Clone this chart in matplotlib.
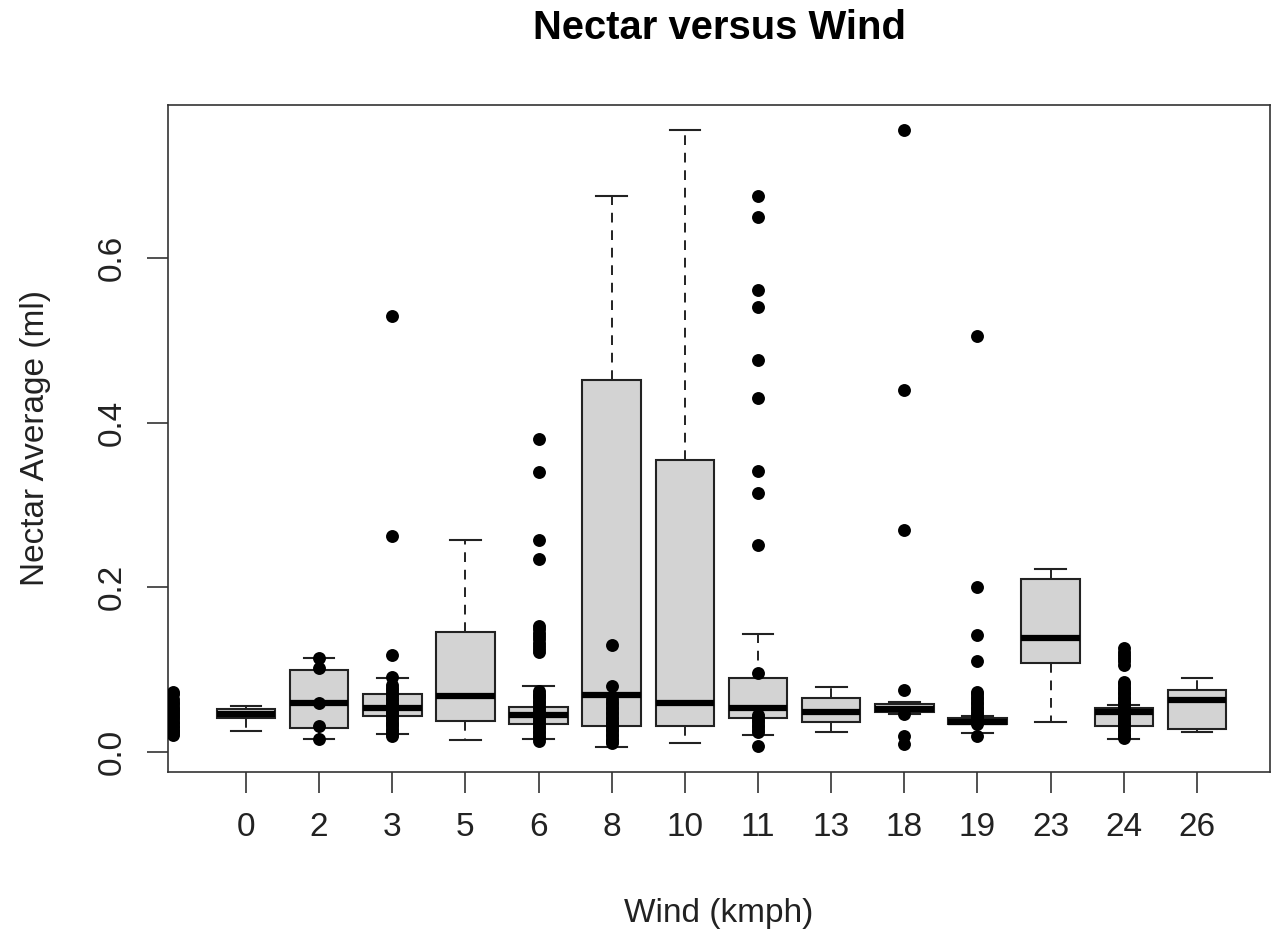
import matplotlib
matplotlib.use("Agg")
import matplotlib.pyplot as plt

plt.rcParams['font.family'] = ['Liberation Sans', 'DejaVu Sans']

# wind categories (first group has no label and no box, only points)
wind_labels = ["0", "2", "3", "5", "6", "8", "10", "11", "13", "18", "19", "23", "24", "26"]

# box statistics
q1 = [0.041, 0.029, 0.044, 0.038, 0.034, 0.031, 0.032, 0.041, 0.036, 0.048, 0.034, 0.108, 0.032, 0.028]
med = [0.046, 0.059, 0.054, 0.068, 0.045, 0.069, 0.060, 0.053, 0.049, 0.052, 0.037, 0.138, 0.049, 0.063]
q3 = [0.052, 0.100, 0.071, 0.146, 0.055, 0.452, 0.355, 0.090, 0.065, 0.058, 0.041, 0.210, 0.054, 0.075]
whis_lo = [0.0255, 0.0155, 0.022, 0.014, 0.0156, 0.0066, 0.0105, 0.0206, 0.024, 0.046, 0.0235, 0.0368, 0.0162, 0.0247]
whis_hi = [0.056, 0.114, 0.0895, 0.258, 0.080, 0.675, 0.755, 0.143, 0.079, 0.061, 0.044, 0.222, 0.057, 0.090]

# overlaid points (stripchart), keyed by group position
points_blank = [0.073, 0.070, 0.064, 0.061, 0.058, 0.055, 0.052, 0.050, 0.047, 0.045, 0.042,
                0.040, 0.037, 0.035, 0.032, 0.030, 0.027, 0.025, 0.023, 0.021]
points_2 = [0.114, 0.102, 0.059, 0.031, 0.016]
points_3 = [0.530, 0.262, 0.118, 0.091, 0.081, 0.078, 0.075, 0.072, 0.069, 0.066, 0.063, 0.060,
            0.057, 0.054, 0.052, 0.049, 0.046, 0.043, 0.040, 0.037, 0.034, 0.031, 0.028,
            0.025, 0.022, 0.019]
points_6 = [0.380, 0.340, 0.258, 0.235, 0.153, 0.149, 0.145, 0.141, 0.137, 0.133, 0.129, 0.125,
            0.121, 0.074, 0.071, 0.068, 0.065, 0.062, 0.059, 0.056, 0.053, 0.050, 0.047,
            0.044, 0.041, 0.038, 0.035, 0.032, 0.029, 0.026, 0.023, 0.020, 0.017, 0.013]
points_8 = [0.130, 0.080, 0.064, 0.061, 0.058, 0.055, 0.052, 0.049, 0.046, 0.043, 0.040, 0.037,
            0.034, 0.031, 0.028, 0.025, 0.022, 0.019, 0.016, 0.013, 0.011]
points_11 = [0.675, 0.650, 0.561, 0.541, 0.476, 0.430, 0.341, 0.315, 0.251, 0.096, 0.045, 0.042,
             0.039, 0.036, 0.033, 0.030, 0.027, 0.024, 0.007]
points_18 = [0.755, 0.440, 0.270, 0.075, 0.046, 0.020, 0.010]
points_19 = [0.505, 0.200, 0.142, 0.110, 0.073, 0.070, 0.067, 0.064, 0.061, 0.058, 0.055, 0.052,
             0.049, 0.046, 0.043, 0.040, 0.037, 0.034, 0.019]
points_24 = [0.126, 0.122, 0.118, 0.114, 0.110, 0.106, 0.085, 0.082, 0.079, 0.076, 0.073, 0.070,
             0.067, 0.064, 0.061, 0.058, 0.055, 0.052, 0.049, 0.046, 0.043, 0.040, 0.037,
             0.034, 0.031, 0.028, 0.025, 0.022, 0.019, 0.017]

point_groups = {1: points_blank, 3: points_2, 4: points_3, 6: points_6, 7: points_8,
                9: points_11, 11: points_18, 12: points_19, 14: points_24}

fig = plt.figure(figsize=(12.78, 9.38), dpi=100)
ax = fig.add_axes([0.1315, 0.1775, 0.8623, 0.7106])

positions = list(range(2, 2 + len(wind_labels)))
stats = []
for i, lab in enumerate(wind_labels):
    stats.append(dict(label=lab, q1=q1[i], med=med[i], q3=q3[i],
                      whislo=whis_lo[i], whishi=whis_hi[i], fliers=[]))

ax.bxp(stats, positions=positions, widths=0.8, capwidths=0.42, patch_artist=True,
       showfliers=False,
       boxprops=dict(facecolor='#d3d3d3', edgecolor='#222222', linewidth=1.5),
       medianprops=dict(color='black', linewidth=4.5, solid_capstyle='butt'),
       whiskerprops=dict(color='#222222', linewidth=1.4, linestyle=(0, (5, 4))),
       capprops=dict(color='#222222', linewidth=1.5))

for pos, vals in point_groups.items():
    ax.plot([pos] * len(vals), vals, 'o', color='black', markersize=9.3,
            markeredgewidth=0, zorder=5, clip_on=True)

ax.set_xlim(0.935, 16.0)
ax.set_ylim(-0.0237, 0.786)

ax.set_xticks(positions)
ax.set_xticklabels(wind_labels)
ax.set_yticks([0.0, 0.2, 0.4, 0.6])
ax.set_yticklabels(["0.0", "0.2", "0.4", "0.6"], rotation=90, va='center')

ax.tick_params(axis='both', length=15, width=1.2, color='#333333',
               labelsize=24, labelcolor='#222222', pad=14)

for sp in ax.spines.values():
    sp.set_color('#333333')
    sp.set_linewidth(1.2)

fig.text(0.5626, 1 - 28 / 938, "Nectar versus Wind", ha='center', va='center',
         fontsize=28.8, fontweight='bold', color='black')
fig.text(0.5626, 1 - 913 / 938, "Wind (kmph)", ha='center', va='center',
         fontsize=24, color='#222222')
fig.text(36 / 1278, 1 - 438 / 938, "Nectar Average (ml)", ha='center', va='center',
         rotation=90, fontsize=24, color='#222222')

fig.savefig("out.png", dpi=100)
